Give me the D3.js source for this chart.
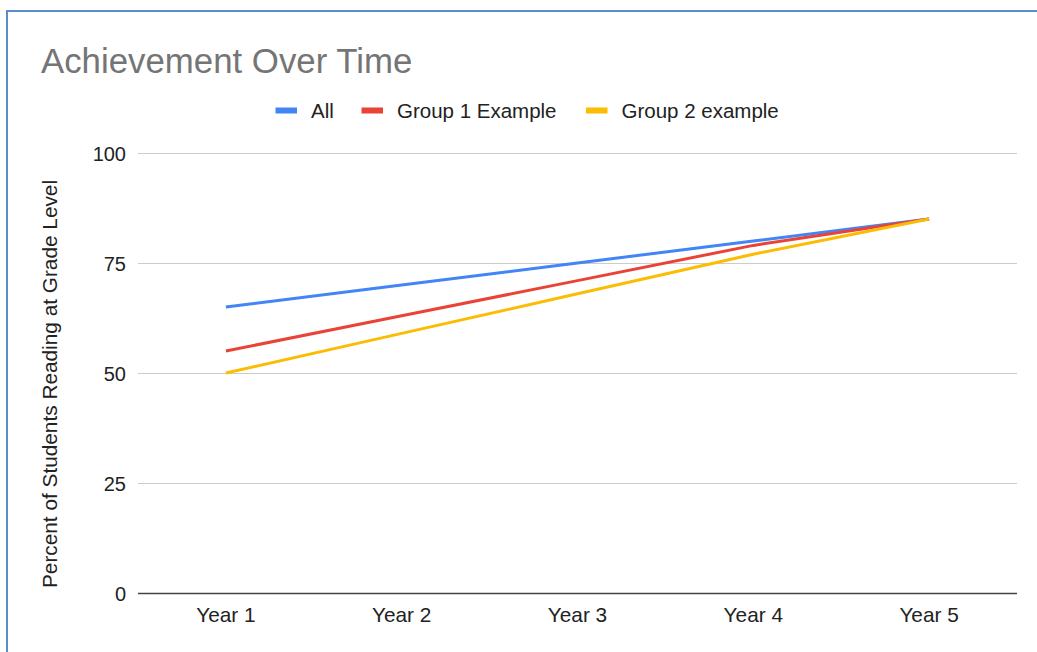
<!DOCTYPE html>
<html>
<head>
<meta charset="utf-8">
<script src="https://cdn.jsdelivr.net/npm/d3@7"></script>
<style>
  html, body { margin: 0; padding: 0; background: #fff; }
  svg { display: block; font-family: "Liberation Sans", Arial, Helvetica, sans-serif; }
</style>
</head>
<body>
<svg id="chart" width="1037" height="652"></svg>
<script>
const categories = ["Year 1", "Year 2", "Year 3", "Year 4", "Year 5"];
const seriesNames = ["All", "Group 1 Example", "Group 2 example"];
const allValues = [65, 70, 75, 80, 85];
const group1Values = [55, 63, 71, 79, 85];
const group2Values = [50, 59, 68, 77, 85];
const yTicks = [0, 25, 50, 75, 100];
const colors = ["#4285f4", "#ea4335", "#fbbc04"];
const titleText = "Achievement Over Time";
const yAxisTitle = "Percent of Students Reading at Grade Level";

const series = [allValues, group1Values, group2Values].map((v, i) => ({
  name: seriesNames[i], color: colors[i], values: v
}));

const svg = d3.select("#chart");
const W = 1037, H = 652;
const plot = { left: 138, right: 1017, top: 153, bottom: 593 };

// frame border (top + left)
svg.append("path")
  .attr("d", `M7,${H} L7,11 L${W},11`)
  .attr("fill", "none")
  .attr("stroke", "#5b8dce")
  .attr("stroke-width", 2);

// title
svg.append("text")
  .attr("x", 41)
  .attr("y", 73)
  .attr("font-size", 34.8)
  .attr("fill", "#757575")
  .text(titleText);

const x = d3.scaleBand().domain(categories).range([plot.left, plot.right]);
const y = d3.scaleLinear().domain([0, 100]).range([plot.bottom, plot.top]);

// gridlines + y labels
const yAxis = d3.axisLeft(y).tickValues(yTicks).tickSize(-(plot.right - plot.left)).tickPadding(12);
const gy = svg.append("g").attr("transform", `translate(${plot.left},0)`).call(yAxis);
gy.select(".domain").remove();
gy.selectAll(".tick line").attr("stroke", d => d === 0 ? "#444" : "#cccccc").attr("stroke-width", d => d === 0 ? 1.6 : 1.2);
gy.selectAll(".tick text")
  .attr("font-size", 20)
  .attr("font-family", "'Liberation Sans', Arial, sans-serif")
  .attr("fill", "#222")
  .attr("dy", "0.36em");

// x labels
const xAxis = d3.axisBottom(x).tickSize(0).tickPadding(14);
const gx = svg.append("g").attr("transform", `translate(0,${plot.bottom})`).call(xAxis);
gx.select(".domain").remove();
gx.selectAll(".tick text")
  .attr("font-size", 20.8)
  .attr("font-family", "'Liberation Sans', Arial, sans-serif")
  .attr("fill", "#222");

// y axis title
svg.append("text")
  .attr("transform", `translate(57,384) rotate(-90)`)
  .attr("text-anchor", "middle")
  .attr("font-size", 20.8)
  .attr("fill", "#222")
  .text(yAxisTitle);

// lines
const line = d3.line()
  .x((d, i) => x(categories[i]) + x.bandwidth() / 2)
  .y(d => y(d));

svg.append("g").selectAll("path")
  .data(series)
  .join("path")
  .attr("d", d => line(d.values))
  .attr("fill", "none")
  .attr("stroke", d => d.color)
  .attr("stroke-width", 3)
  .attr("stroke-linejoin", "round");

// legend
const legendX = [275.5, 361.5, 586];
const lg = svg.append("g").selectAll("g")
  .data(series)
  .join("g")
  .attr("transform", (d, i) => `translate(${legendX[i]},110.5)`);
lg.append("rect")
  .attr("x", 0).attr("y", -3).attr("width", 21.5).attr("height", 6)
  .attr("fill", d => d.color);
lg.append("text")
  .attr("x", 35.5).attr("y", 7.5)
  .attr("font-size", 20.5)
  .attr("fill", "#222")
  .text(d => d.name);
</script>
</body>
</html>
